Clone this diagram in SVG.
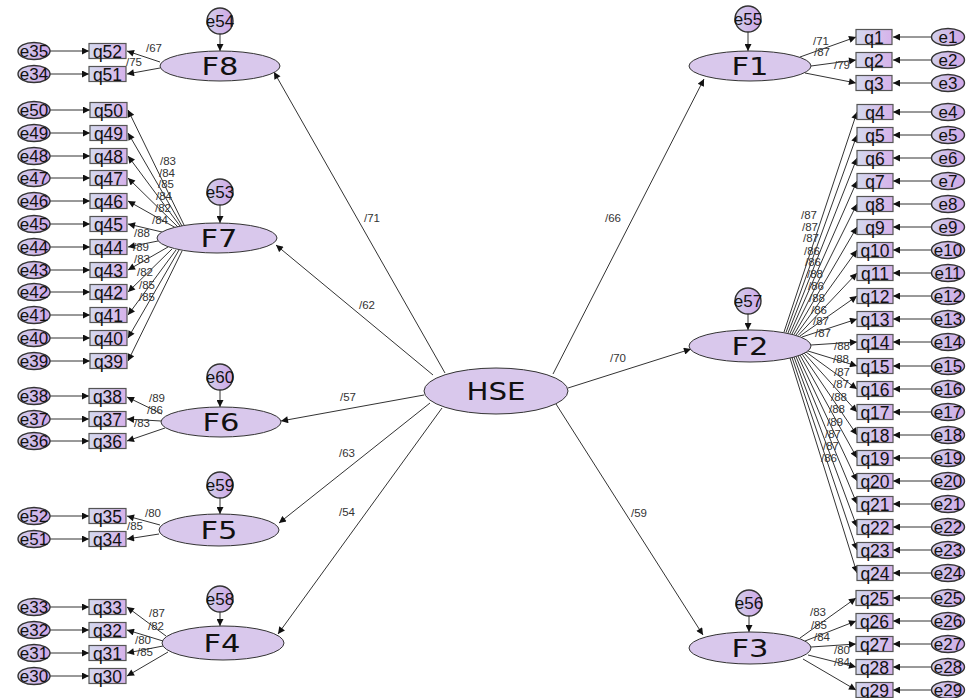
<svg xmlns="http://www.w3.org/2000/svg" width="970" height="698" viewBox="0 0 970 698">
<defs>
<marker id="ah" viewBox="0 0 10 10" refX="10" refY="5" markerWidth="9" markerHeight="7" markerUnits="userSpaceOnUse" orient="auto"><path d="M0,0 L10,5 L0,10 z" fill="#111"/></marker>
<linearGradient id="qg" x1="0" y1="0" x2="1" y2="0"><stop offset="0" stop-color="#d4d9ee"/><stop offset="1" stop-color="#d6b2ea"/></linearGradient>
<linearGradient id="eg" x1="0" y1="0" x2="1" y2="0"><stop offset="0" stop-color="#d2d0ea"/><stop offset="1" stop-color="#cfa6e8"/></linearGradient>
<style>
.lat{fill:#d9c8ec;stroke:#333;stroke-width:1}
.q{fill:url(#qg);stroke:#555;stroke-width:1.2}
.e{fill:url(#eg);stroke:#333;stroke-width:1.4}
.fl{font-family:"DejaVu Sans",sans-serif;font-size:24px;text-anchor:middle;fill:#111}
.ql{font-family:"Liberation Sans",Arial,sans-serif;font-size:17.5px;text-anchor:middle;fill:#111}
.el{font-family:"Liberation Sans",Arial,sans-serif;font-size:17px;text-anchor:middle;fill:#111}
.lb{font-family:"Liberation Sans",Arial,sans-serif;font-size:11.5px;text-anchor:middle;fill:#333}
.c line{stroke:#333;stroke-width:1;marker-end:url(#ah)}
</style>
</defs>
<rect width="970" height="698" fill="#fff"/>

<g id="connectors" class="c">
<line x1="445" y1="373" x2="274" y2="72"/>
<line x1="433" y1="375" x2="276" y2="245"/>
<line x1="424" y1="395" x2="281" y2="421"/>
<line x1="430" y1="403" x2="279" y2="523"/>
<line x1="442" y1="408" x2="278" y2="634"/>
<line x1="553" y1="374" x2="704" y2="79"/>
<line x1="568" y1="388" x2="691" y2="349"/>
<line x1="556" y1="404" x2="703" y2="635"/>
<line x1="220" y1="34" x2="220" y2="51"/>
<line x1="220" y1="205" x2="220" y2="223"/>
<line x1="220" y1="390" x2="220" y2="407"/>
<line x1="220" y1="498" x2="220" y2="514"/>
<line x1="220" y1="612" x2="220" y2="626"/>
<line x1="748" y1="32" x2="748" y2="51"/>
<line x1="748" y1="314" x2="748" y2="330"/>
<line x1="749" y1="616" x2="749" y2="632"/>
<line x1="160" y1="62" x2="127" y2="51"/>
<line x1="160" y1="68" x2="127" y2="74"/>
<line x1="184" y1="225" x2="128" y2="110"/>
<line x1="182" y1="226" x2="128" y2="133"/>
<line x1="180" y1="226" x2="128" y2="156"/>
<line x1="178" y1="227" x2="128" y2="178"/>
<line x1="176" y1="228" x2="128" y2="201"/>
<line x1="162" y1="232" x2="128" y2="224"/>
<line x1="158" y1="241" x2="128" y2="247"/>
<line x1="168" y1="247" x2="128" y2="270"/>
<line x1="172" y1="249" x2="128" y2="292"/>
<line x1="176" y1="250" x2="128" y2="315"/>
<line x1="179" y1="250" x2="128" y2="338"/>
<line x1="182" y1="251" x2="128" y2="361"/>
<line x1="162" y1="414" x2="127" y2="397"/>
<line x1="161" y1="421" x2="127" y2="419"/>
<line x1="165" y1="428" x2="127" y2="441"/>
<line x1="160" y1="525" x2="127" y2="516"/>
<line x1="159" y1="534" x2="127" y2="539"/>
<line x1="166" y1="636" x2="127" y2="607"/>
<line x1="163" y1="641" x2="127" y2="630"/>
<line x1="163" y1="646" x2="127" y2="653"/>
<line x1="168" y1="652" x2="127" y2="676"/>
<line x1="800" y1="57" x2="856" y2="37"/>
<line x1="811" y1="66" x2="856" y2="60"/>
<line x1="805" y1="73" x2="856" y2="83"/>
<line x1="784" y1="332" x2="857" y2="112"/>
<line x1="786" y1="332.5" x2="857" y2="135"/>
<line x1="788" y1="333" x2="857" y2="158"/>
<line x1="790" y1="333.5" x2="857" y2="181"/>
<line x1="792" y1="334" x2="857" y2="204"/>
<line x1="794" y1="334.5" x2="857" y2="227"/>
<line x1="796" y1="335" x2="857" y2="250"/>
<line x1="798" y1="335.5" x2="857" y2="273"/>
<line x1="800" y1="336" x2="857" y2="296"/>
<line x1="802" y1="337" x2="857" y2="319"/>
<line x1="811" y1="345" x2="857" y2="342"/>
<line x1="808" y1="351" x2="857" y2="366"/>
<line x1="806" y1="352" x2="857" y2="389"/>
<line x1="804" y1="353" x2="857" y2="412"/>
<line x1="802" y1="354" x2="857" y2="435"/>
<line x1="800" y1="355" x2="857" y2="458"/>
<line x1="798" y1="356" x2="857" y2="481"/>
<line x1="796" y1="356.5" x2="857" y2="504"/>
<line x1="794" y1="357" x2="857" y2="527"/>
<line x1="792" y1="357.5" x2="857" y2="550"/>
<line x1="790" y1="358" x2="857" y2="573"/>
<line x1="800" y1="638" x2="856" y2="598"/>
<line x1="805" y1="641" x2="856" y2="621"/>
<line x1="811" y1="647" x2="856" y2="644"/>
<line x1="808" y1="655" x2="856" y2="667"/>
<line x1="803" y1="659" x2="856" y2="690"/>
<line x1="50" y1="51" x2="89" y2="51"/>
<line x1="50" y1="74" x2="89" y2="74"/>
<line x1="50" y1="110" x2="90" y2="110"/>
<line x1="50" y1="133" x2="90" y2="133"/>
<line x1="50" y1="156" x2="90" y2="156"/>
<line x1="50" y1="178" x2="90" y2="178"/>
<line x1="50" y1="201" x2="90" y2="201"/>
<line x1="50" y1="224" x2="90" y2="224"/>
<line x1="50" y1="247" x2="90" y2="247"/>
<line x1="50" y1="270" x2="90" y2="270"/>
<line x1="50" y1="292" x2="90" y2="292"/>
<line x1="50" y1="315" x2="90" y2="315"/>
<line x1="50" y1="338" x2="90" y2="338"/>
<line x1="50" y1="361" x2="90" y2="361"/>
<line x1="50" y1="396" x2="89" y2="396"/>
<line x1="50" y1="419" x2="89" y2="419"/>
<line x1="50" y1="441" x2="89" y2="441"/>
<line x1="50" y1="516" x2="89" y2="516"/>
<line x1="50" y1="539" x2="89" y2="539"/>
<line x1="50" y1="607" x2="89" y2="607"/>
<line x1="50" y1="630" x2="89" y2="630"/>
<line x1="50" y1="653" x2="89" y2="653"/>
<line x1="50" y1="676" x2="89" y2="676"/>
<line x1="932" y1="37" x2="893" y2="37"/>
<line x1="932" y1="60" x2="893" y2="60"/>
<line x1="932" y1="83" x2="893" y2="83"/>
<line x1="931" y1="112" x2="893" y2="112"/>
<line x1="931" y1="135" x2="893" y2="135"/>
<line x1="931" y1="158" x2="893" y2="158"/>
<line x1="931" y1="181" x2="893" y2="181"/>
<line x1="931" y1="204" x2="893" y2="204"/>
<line x1="931" y1="227" x2="893" y2="227"/>
<line x1="931" y1="250" x2="893" y2="250"/>
<line x1="931" y1="273" x2="893" y2="273"/>
<line x1="931" y1="296" x2="893" y2="296"/>
<line x1="931" y1="319" x2="893" y2="319"/>
<line x1="931" y1="342" x2="893" y2="342"/>
<line x1="931" y1="366" x2="893" y2="366"/>
<line x1="931" y1="389" x2="893" y2="389"/>
<line x1="931" y1="412" x2="893" y2="412"/>
<line x1="931" y1="435" x2="893" y2="435"/>
<line x1="931" y1="458" x2="893" y2="458"/>
<line x1="931" y1="481" x2="893" y2="481"/>
<line x1="931" y1="504" x2="893" y2="504"/>
<line x1="931" y1="527" x2="893" y2="527"/>
<line x1="931" y1="550" x2="893" y2="550"/>
<line x1="931" y1="573" x2="893" y2="573"/>
<line x1="931" y1="598" x2="893" y2="598"/>
<line x1="931" y1="621" x2="893" y2="621"/>
<line x1="931" y1="644" x2="893" y2="644"/>
<line x1="931" y1="667" x2="893" y2="667"/>
<line x1="931" y1="690" x2="893" y2="690"/>
</g>

<g id="path-labels" class="lb">
<text x="372" y="222">/71</text><text x="613" y="222">/66</text><text x="367" y="309">/62</text><text x="618" y="362">/70</text>
<text x="348" y="401">/57</text><text x="347" y="457">/63</text><text x="347" y="516">/54</text><text x="639" y="517">/59</text>
<text x="154" y="52">/67</text><text x="134" y="66">/75</text>
<text x="168" y="165">/83</text><text x="167" y="177">/84</text><text x="166" y="188">/85</text><text x="164" y="200">/84</text><text x="163" y="212">/82</text><text x="160" y="224">/84</text>
<text x="142" y="237">/88</text><text x="141" y="251">/89</text><text x="142" y="263">/83</text><text x="145" y="276">/82</text><text x="147" y="289">/85</text><text x="147" y="301">/85</text>
<text x="157" y="402">/89</text><text x="155" y="414">/86</text><text x="142" y="427">/83</text>
<text x="153" y="517">/80</text><text x="135" y="530">/85</text>
<text x="157" y="617">/87</text><text x="156" y="630">/82</text><text x="143" y="644">/80</text><text x="145" y="656">/85</text>
<text x="821" y="45">/71</text><text x="822" y="56">/87</text><text x="842" y="69">/79</text>
<text x="809" y="219">/87</text><text x="810" y="231">/87</text><text x="811" y="242">/87</text><text x="812" y="255">/86</text><text x="813" y="266">/86</text><text x="815" y="278">/88</text><text x="816" y="290">/86</text><text x="817" y="302">/88</text><text x="819" y="314">/86</text><text x="821" y="325">/87</text><text x="823" y="337">/87</text>
<text x="842" y="350">/88</text><text x="841" y="363">/88</text><text x="842" y="376">/87</text><text x="841" y="388">/87</text><text x="839" y="401">/88</text><text x="837" y="413">/88</text><text x="835" y="426">/89</text><text x="833" y="438">/87</text><text x="831" y="450">/87</text><text x="829" y="462">/86</text>
<text x="818" y="616">/83</text><text x="819" y="629">/85</text><text x="822" y="641">/84</text><text x="842" y="654">/80</text><text x="842" y="666">/84</text>
</g>

<g id="HSE"><ellipse class="lat" cx="496" cy="391" rx="72" ry="23"/><text class="fl" x="496" y="400" font-size="25" textLength="59" lengthAdjust="spacingAndGlyphs">HSE</text></g>
<g id="F8"><ellipse class="lat" cx="220" cy="66" rx="60" ry="15"/><text class="fl" x="220" y="75" textLength="37" lengthAdjust="spacingAndGlyphs">F8</text></g>
<g id="F7"><ellipse class="lat" cx="217" cy="238" rx="60" ry="15"/><text class="fl" x="219" y="247" textLength="37" lengthAdjust="spacingAndGlyphs">F7</text></g>
<g id="F6"><ellipse class="lat" cx="221" cy="422" rx="60" ry="15"/><text class="fl" x="221" y="431" textLength="37" lengthAdjust="spacingAndGlyphs">F6</text></g>
<g id="F5"><ellipse class="lat" cx="219" cy="530" rx="60" ry="16"/><text class="fl" x="219" y="539" textLength="37" lengthAdjust="spacingAndGlyphs">F5</text></g>
<g id="F4"><ellipse class="lat" cx="223" cy="643" rx="61" ry="17"/><text class="fl" x="222" y="652" textLength="37" lengthAdjust="spacingAndGlyphs">F4</text></g>
<g id="F1"><ellipse class="lat" cx="750" cy="66" rx="61" ry="15"/><text class="fl" x="750" y="75" textLength="37" lengthAdjust="spacingAndGlyphs">F1</text></g>
<g id="F2"><ellipse class="lat" cx="750" cy="346" rx="61" ry="16"/><text class="fl" x="750" y="355" textLength="37" lengthAdjust="spacingAndGlyphs">F2</text></g>
<g id="F3"><ellipse class="lat" cx="750" cy="648" rx="61" ry="16"/><text class="fl" x="750" y="657" textLength="37" lengthAdjust="spacingAndGlyphs">F3</text></g>

<g id="e54"><circle class="e" cx="220" cy="21" r="13"/><text class="el" x="220" y="27">e54</text></g>
<g id="e53"><circle class="e" cx="220" cy="192" r="13"/><text class="el" x="220" y="198">e53</text></g>
<g id="e60"><circle class="e" cx="220" cy="377" r="13"/><text class="el" x="220" y="383">e60</text></g>
<g id="e59"><circle class="e" cx="220" cy="485" r="13"/><text class="el" x="220" y="491">e59</text></g>
<g id="e58"><circle class="e" cx="220" cy="599" r="13"/><text class="el" x="220" y="605">e58</text></g>
<g id="e55"><circle class="e" cx="748" cy="19" r="13"/><text class="el" x="748" y="25">e55</text></g>
<g id="e57"><circle class="e" cx="748" cy="301" r="13"/><text class="el" x="748" y="307">e57</text></g>
<g id="e56"><circle class="e" cx="749" cy="603" r="13"/><text class="el" x="749" y="609">e56</text></g>

<g id="q52"><rect class="q" x="89" y="43.5" width="37" height="15"/><text class="ql" x="107.5" y="57.5">q52</text></g>
<g id="q51"><rect class="q" x="89" y="66.5" width="37" height="15"/><text class="ql" x="107.5" y="80.5">q51</text></g>
<g id="q50"><rect class="q" x="90" y="102.5" width="37" height="15"/><text class="ql" x="108.5" y="116.5">q50</text></g>
<g id="q49"><rect class="q" x="90" y="125.5" width="37" height="15"/><text class="ql" x="108.5" y="139.5">q49</text></g>
<g id="q48"><rect class="q" x="90" y="148.5" width="37" height="15"/><text class="ql" x="108.5" y="162.5">q48</text></g>
<g id="q47"><rect class="q" x="90" y="170.5" width="37" height="15"/><text class="ql" x="108.5" y="184.5">q47</text></g>
<g id="q46"><rect class="q" x="90" y="193.5" width="37" height="15"/><text class="ql" x="108.5" y="207.5">q46</text></g>
<g id="q45"><rect class="q" x="90" y="216.5" width="37" height="15"/><text class="ql" x="108.5" y="230.5">q45</text></g>
<g id="q44"><rect class="q" x="90" y="239.5" width="37" height="15"/><text class="ql" x="108.5" y="253.5">q44</text></g>
<g id="q43"><rect class="q" x="90" y="262.5" width="37" height="15"/><text class="ql" x="108.5" y="276.5">q43</text></g>
<g id="q42"><rect class="q" x="90" y="284.5" width="37" height="15"/><text class="ql" x="108.5" y="298.5">q42</text></g>
<g id="q41"><rect class="q" x="90" y="307.5" width="37" height="15"/><text class="ql" x="108.5" y="321.5">q41</text></g>
<g id="q40"><rect class="q" x="90" y="330.5" width="37" height="15"/><text class="ql" x="108.5" y="344.5">q40</text></g>
<g id="q39"><rect class="q" x="90" y="353.5" width="37" height="15"/><text class="ql" x="108.5" y="367.5">q39</text></g>
<g id="q38"><rect class="q" x="89" y="388.5" width="37" height="15"/><text class="ql" x="107.5" y="402.5">q38</text></g>
<g id="q37"><rect class="q" x="89" y="411.5" width="37" height="15"/><text class="ql" x="107.5" y="425.5">q37</text></g>
<g id="q36"><rect class="q" x="89" y="433.5" width="37" height="15"/><text class="ql" x="107.5" y="447.5">q36</text></g>
<g id="q35"><rect class="q" x="89" y="508.5" width="37" height="15"/><text class="ql" x="107.5" y="522.5">q35</text></g>
<g id="q34"><rect class="q" x="89" y="531.5" width="37" height="15"/><text class="ql" x="107.5" y="545.5">q34</text></g>
<g id="q33"><rect class="q" x="89" y="599.5" width="37" height="15"/><text class="ql" x="107.5" y="613.5">q33</text></g>
<g id="q32"><rect class="q" x="89" y="622.5" width="37" height="15"/><text class="ql" x="107.5" y="636.5">q32</text></g>
<g id="q31"><rect class="q" x="89" y="645.5" width="37" height="15"/><text class="ql" x="107.5" y="659.5">q31</text></g>
<g id="q30"><rect class="q" x="89" y="668.5" width="37" height="15"/><text class="ql" x="107.5" y="682.5">q30</text></g>

<g id="e35"><ellipse class="e" cx="34" cy="51" rx="16" ry="8.5"/><text class="el" x="34" y="57">e35</text></g>
<g id="e34"><ellipse class="e" cx="34" cy="74" rx="16" ry="8.5"/><text class="el" x="34" y="80">e34</text></g>
<g id="e50"><ellipse class="e" cx="34" cy="110" rx="16" ry="8.5"/><text class="el" x="34" y="116">e50</text></g>
<g id="e49"><ellipse class="e" cx="34" cy="133" rx="16" ry="8.5"/><text class="el" x="34" y="139">e49</text></g>
<g id="e48"><ellipse class="e" cx="34" cy="156" rx="16" ry="8.5"/><text class="el" x="34" y="162">e48</text></g>
<g id="e47"><ellipse class="e" cx="34" cy="178" rx="16" ry="8.5"/><text class="el" x="34" y="184">e47</text></g>
<g id="e46"><ellipse class="e" cx="34" cy="201" rx="16" ry="8.5"/><text class="el" x="34" y="207">e46</text></g>
<g id="e45"><ellipse class="e" cx="34" cy="224" rx="16" ry="8.5"/><text class="el" x="34" y="230">e45</text></g>
<g id="e44"><ellipse class="e" cx="34" cy="247" rx="16" ry="8.5"/><text class="el" x="34" y="253">e44</text></g>
<g id="e43"><ellipse class="e" cx="34" cy="270" rx="16" ry="8.5"/><text class="el" x="34" y="276">e43</text></g>
<g id="e42"><ellipse class="e" cx="34" cy="292" rx="16" ry="8.5"/><text class="el" x="34" y="298">e42</text></g>
<g id="e41"><ellipse class="e" cx="34" cy="315" rx="16" ry="8.5"/><text class="el" x="34" y="321">e41</text></g>
<g id="e40"><ellipse class="e" cx="34" cy="338" rx="16" ry="8.5"/><text class="el" x="34" y="344">e40</text></g>
<g id="e39"><ellipse class="e" cx="34" cy="361" rx="16" ry="8.5"/><text class="el" x="34" y="367">e39</text></g>
<g id="e38"><ellipse class="e" cx="34" cy="396" rx="16" ry="8.5"/><text class="el" x="34" y="402">e38</text></g>
<g id="e37"><ellipse class="e" cx="34" cy="419" rx="16" ry="8.5"/><text class="el" x="34" y="425">e37</text></g>
<g id="e36"><ellipse class="e" cx="34" cy="441" rx="16" ry="8.5"/><text class="el" x="34" y="447">e36</text></g>
<g id="e52"><ellipse class="e" cx="34" cy="516" rx="16" ry="8.5"/><text class="el" x="34" y="522">e52</text></g>
<g id="e51"><ellipse class="e" cx="34" cy="539" rx="16" ry="8.5"/><text class="el" x="34" y="545">e51</text></g>
<g id="e33"><ellipse class="e" cx="34" cy="607" rx="16" ry="8.5"/><text class="el" x="34" y="613">e33</text></g>
<g id="e32"><ellipse class="e" cx="34" cy="630" rx="16" ry="8.5"/><text class="el" x="34" y="636">e32</text></g>
<g id="e31"><ellipse class="e" cx="34" cy="653" rx="16" ry="8.5"/><text class="el" x="34" y="659">e31</text></g>
<g id="e30"><ellipse class="e" cx="34" cy="676" rx="16" ry="8.5"/><text class="el" x="34" y="682">e30</text></g>

<g id="q1"><rect class="q" x="856" y="29.5" width="36" height="15"/><text class="ql" x="874" y="43.5">q1</text></g>
<g id="q2"><rect class="q" x="856" y="52.5" width="36" height="15"/><text class="ql" x="874" y="66.5">q2</text></g>
<g id="q3"><rect class="q" x="856" y="75.5" width="36" height="15"/><text class="ql" x="874" y="89.5">q3</text></g>
<g id="q4"><rect class="q" x="857" y="104.5" width="36" height="15"/><text class="ql" x="875" y="118.5">q4</text></g>
<g id="q5"><rect class="q" x="857" y="127.5" width="36" height="15"/><text class="ql" x="875" y="141.5">q5</text></g>
<g id="q6"><rect class="q" x="857" y="150.5" width="36" height="15"/><text class="ql" x="875" y="164.5">q6</text></g>
<g id="q7"><rect class="q" x="857" y="173.5" width="36" height="15"/><text class="ql" x="875" y="187.5">q7</text></g>
<g id="q8"><rect class="q" x="857" y="196.5" width="36" height="15"/><text class="ql" x="875" y="210.5">q8</text></g>
<g id="q9"><rect class="q" x="857" y="219.5" width="36" height="15"/><text class="ql" x="875" y="233.5">q9</text></g>
<g id="q10"><rect class="q" x="857" y="242.5" width="36" height="15"/><text class="ql" x="875" y="256.5">q10</text></g>
<g id="q11"><rect class="q" x="857" y="265.5" width="36" height="15"/><text class="ql" x="875" y="279.5">q11</text></g>
<g id="q12"><rect class="q" x="857" y="288.5" width="36" height="15"/><text class="ql" x="875" y="302.5">q12</text></g>
<g id="q13"><rect class="q" x="857" y="311.5" width="36" height="15"/><text class="ql" x="875" y="325.5">q13</text></g>
<g id="q14"><rect class="q" x="857" y="334.5" width="36" height="15"/><text class="ql" x="875" y="348.5">q14</text></g>
<g id="q15"><rect class="q" x="857" y="358.5" width="36" height="15"/><text class="ql" x="875" y="372.5">q15</text></g>
<g id="q16"><rect class="q" x="857" y="381.5" width="36" height="15"/><text class="ql" x="875" y="395.5">q16</text></g>
<g id="q17"><rect class="q" x="857" y="404.5" width="36" height="15"/><text class="ql" x="875" y="418.5">q17</text></g>
<g id="q18"><rect class="q" x="857" y="427.5" width="36" height="15"/><text class="ql" x="875" y="441.5">q18</text></g>
<g id="q19"><rect class="q" x="857" y="450.5" width="36" height="15"/><text class="ql" x="875" y="464.5">q19</text></g>
<g id="q20"><rect class="q" x="857" y="473.5" width="36" height="15"/><text class="ql" x="875" y="487.5">q20</text></g>
<g id="q21"><rect class="q" x="857" y="496.5" width="36" height="15"/><text class="ql" x="875" y="510.5">q21</text></g>
<g id="q22"><rect class="q" x="857" y="519.5" width="36" height="15"/><text class="ql" x="875" y="533.5">q22</text></g>
<g id="q23"><rect class="q" x="857" y="542.5" width="36" height="15"/><text class="ql" x="875" y="556.5">q23</text></g>
<g id="q24"><rect class="q" x="857" y="565.5" width="36" height="15"/><text class="ql" x="875" y="579.5">q24</text></g>
<g id="q25"><rect class="q" x="856" y="590.5" width="37" height="15"/><text class="ql" x="874.5" y="604.5">q25</text></g>
<g id="q26"><rect class="q" x="856" y="613.5" width="37" height="15"/><text class="ql" x="874.5" y="627.5">q26</text></g>
<g id="q27"><rect class="q" x="856" y="636.5" width="37" height="15"/><text class="ql" x="874.5" y="650.5">q27</text></g>
<g id="q28"><rect class="q" x="856" y="659.5" width="37" height="15"/><text class="ql" x="874.5" y="673.5">q28</text></g>
<g id="q29"><rect class="q" x="856" y="682.5" width="37" height="15"/><text class="ql" x="874.5" y="696.5">q29</text></g>

<g id="e1"><ellipse class="e" cx="948" cy="37" rx="16.5" ry="8.5"/><text class="el" x="948" y="43">e1</text></g>
<g id="e2"><ellipse class="e" cx="948" cy="60" rx="16.5" ry="8.5"/><text class="el" x="948" y="66">e2</text></g>
<g id="e3"><ellipse class="e" cx="948" cy="83" rx="16.5" ry="8.5"/><text class="el" x="948" y="89">e3</text></g>
<g id="e4"><ellipse class="e" cx="948" cy="112" rx="16.5" ry="8.5"/><text class="el" x="948" y="118">e4</text></g>
<g id="e5"><ellipse class="e" cx="948" cy="135" rx="16.5" ry="8.5"/><text class="el" x="948" y="141">e5</text></g>
<g id="e6"><ellipse class="e" cx="948" cy="158" rx="16.5" ry="8.5"/><text class="el" x="948" y="164">e6</text></g>
<g id="e7"><ellipse class="e" cx="948" cy="181" rx="16.5" ry="8.5"/><text class="el" x="948" y="187">e7</text></g>
<g id="e8"><ellipse class="e" cx="948" cy="204" rx="16.5" ry="8.5"/><text class="el" x="948" y="210">e8</text></g>
<g id="e9"><ellipse class="e" cx="948" cy="227" rx="16.5" ry="8.5"/><text class="el" x="948" y="233">e9</text></g>
<g id="e10"><ellipse class="e" cx="948" cy="250" rx="16.5" ry="8.5"/><text class="el" x="948" y="256">e10</text></g>
<g id="e11"><ellipse class="e" cx="948" cy="273" rx="16.5" ry="8.5"/><text class="el" x="948" y="279">e11</text></g>
<g id="e12"><ellipse class="e" cx="948" cy="296" rx="16.5" ry="8.5"/><text class="el" x="948" y="302">e12</text></g>
<g id="e13"><ellipse class="e" cx="948" cy="319" rx="16.5" ry="8.5"/><text class="el" x="948" y="325">e13</text></g>
<g id="e14"><ellipse class="e" cx="948" cy="342" rx="16.5" ry="8.5"/><text class="el" x="948" y="348">e14</text></g>
<g id="e15"><ellipse class="e" cx="948" cy="366" rx="16.5" ry="8.5"/><text class="el" x="948" y="372">e15</text></g>
<g id="e16"><ellipse class="e" cx="948" cy="389" rx="16.5" ry="8.5"/><text class="el" x="948" y="395">e16</text></g>
<g id="e17"><ellipse class="e" cx="948" cy="412" rx="16.5" ry="8.5"/><text class="el" x="948" y="418">e17</text></g>
<g id="e18"><ellipse class="e" cx="948" cy="435" rx="16.5" ry="8.5"/><text class="el" x="948" y="441">e18</text></g>
<g id="e19"><ellipse class="e" cx="948" cy="458" rx="16.5" ry="8.5"/><text class="el" x="948" y="464">e19</text></g>
<g id="e20"><ellipse class="e" cx="948" cy="481" rx="16.5" ry="8.5"/><text class="el" x="948" y="487">e20</text></g>
<g id="e21"><ellipse class="e" cx="948" cy="504" rx="16.5" ry="8.5"/><text class="el" x="948" y="510">e21</text></g>
<g id="e22"><ellipse class="e" cx="948" cy="527" rx="16.5" ry="8.5"/><text class="el" x="948" y="533">e22</text></g>
<g id="e23"><ellipse class="e" cx="948" cy="550" rx="16.5" ry="8.5"/><text class="el" x="948" y="556">e23</text></g>
<g id="e24"><ellipse class="e" cx="948" cy="573" rx="16.5" ry="8.5"/><text class="el" x="948" y="579">e24</text></g>
<g id="e25"><ellipse class="e" cx="948" cy="598" rx="16.5" ry="8.5"/><text class="el" x="948" y="604">e25</text></g>
<g id="e26"><ellipse class="e" cx="948" cy="621" rx="16.5" ry="8.5"/><text class="el" x="948" y="627">e26</text></g>
<g id="e27"><ellipse class="e" cx="948" cy="644" rx="16.5" ry="8.5"/><text class="el" x="948" y="650">e27</text></g>
<g id="e28"><ellipse class="e" cx="948" cy="667" rx="16.5" ry="8.5"/><text class="el" x="948" y="673">e28</text></g>
<g id="e29"><ellipse class="e" cx="948" cy="690" rx="16.5" ry="8.5"/><text class="el" x="948" y="696">e29</text></g>
</svg>
